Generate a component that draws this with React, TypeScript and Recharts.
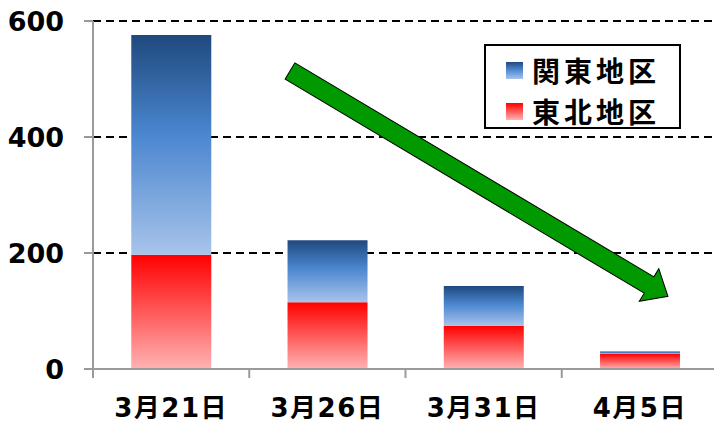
import { BarChart, Bar, XAxis, YAxis, CartesianGrid } from "recharts";

// 日付ごとの人数（東北地区が下段、関東地区が上段）
const dates = ["3月21日", "3月26日", "3月31日", "4月5日"];
const tohoku = [197, 115, 74, 26];
const kanto = [379, 107, 69, 4];
const yTicks = [0, 200, 400, 600];

const data = dates.map((d, i) => ({ date: d, tohoku: tohoku[i], kanto: kanto[i] }));

const FONT = "'DejaVu Sans', 'Noto Sans CJK JP', sans-serif";
const CJK_FONT = "'Noto Sans CJK JP', 'DejaVu Sans', sans-serif";
const AXIS_GRAY = "#9a9a9a";

const BLUE_GRAD = "linear-gradient(#1f497d, #4a86cf 45%, #a8c4ea)";
const RED_GRAD = "linear-gradient(#ff0000, #ffb3b3)";

function XTick(props: any) {
  const { x, y, payload } = props;
  const half = payload?.offset ?? 0;
  return (
    <g>
      <line x1={x - half} x2={x - half} y1={y} y2={y + 9} stroke={AXIS_GRAY} strokeWidth={2} />
      <text
        x={x}
        y={y + 48}
        textAnchor="middle"
        fontFamily={FONT}
        fontWeight="bold"
        fontSize={26}
        letterSpacing={1.5}
        fill="#000"
      >
        {payload.value}
      </text>
    </g>
  );
}

function LegendBox() {
  const items = [
    { label: "関東地区", bg: BLUE_GRAD },
    { label: "東北地区", bg: RED_GRAD },
  ];
  return (
    <div
      style={{
        position: "absolute",
        left: 484,
        top: 44,
        width: 193,
        height: 81,
        border: "2px solid #000",
        background: "#fff",
        boxSizing: "content-box",
      }}
    >
      {items.map((it, i) => (
        <div
          key={it.label}
          style={{
            position: "absolute",
            left: 20,
            top: 6 + i * 41,
            height: 36,
            display: "flex",
            alignItems: "center",
          }}
        >
          <span style={{ width: 17, height: 17, background: it.bg, display: "inline-block" }} />
          <span
            style={{
              marginLeft: 9,
              fontFamily: CJK_FONT,
              fontWeight: "bold",
              fontSize: 28,
              letterSpacing: 4,
              lineHeight: "36px",
              color: "#000",
            }}
          >
            {it.label}
          </span>
        </div>
      ))}
    </div>
  );
}

function Arrow() {
  const L = 440;
  const hl = 22;
  const sw = 9.5;
  const hw = 19;
  const pts = [
    [0, -sw],
    [L - hl, -sw],
    [L - hl, -hw],
    [L, 0],
    [L - hl, hw],
    [L - hl, sw],
    [0, sw],
  ]
    .map((p) => p.join(","))
    .join(" ");
  return (
    <svg
      width={714}
      height={426}
      style={{ position: "absolute", left: 0, top: 0, pointerEvents: "none" }}
    >
      <polygon
        points={pts}
        transform="translate(290,71) rotate(30.8)"
        fill="#009900"
        stroke="#000"
        strokeWidth={1}
      />
    </svg>
  );
}

export default function App() {
  return (
    <div
      style={{
        position: "absolute",
        left: 0,
        top: 0,
        width: 714,
        height: 426,
        overflow: "hidden",
        background: "#fff",
      }}
    >
      <BarChart
        width={718}
        height={426}
        data={data}
        margin={{ top: 21, right: 0, bottom: 0, left: 0 }}
        barCategoryGap="24.5%"
      >
        <defs>
          <linearGradient id="gBlue" x1="0" y1="0" x2="0" y2="1">
            <stop offset="0%" stopColor="#1f497d" />
            <stop offset="45%" stopColor="#4a86cf" />
            <stop offset="100%" stopColor="#a8c4ea" />
          </linearGradient>
          <linearGradient id="gRed" x1="0" y1="0" x2="0" y2="1">
            <stop offset="0%" stopColor="#ff0000" />
            <stop offset="100%" stopColor="#ffb3b3" />
          </linearGradient>
        </defs>
        <CartesianGrid
          vertical={false}
          stroke="#000"
          strokeWidth={2}
          strokeDasharray="8 5"
        />
        <XAxis
          dataKey="date"
          height={57}
          axisLine={{ stroke: AXIS_GRAY, strokeWidth: 2 }}
          tickLine={false}
          tickSize={0}
          tickMargin={0}
          tick={<XTick />}
          interval={0}
        />
        <YAxis
          width={93}
          domain={[0, 600]}
          ticks={yTicks}
          axisLine={{ stroke: AXIS_GRAY, strokeWidth: 2 }}
          tickLine={{ stroke: AXIS_GRAY, strokeWidth: 2 }}
          tickSize={9}
          tickMargin={20}
          tick={{ fontSize: 27, fontWeight: "bold", fill: "#000", fontFamily: FONT }}
        />
        <Bar dataKey="tohoku" stackId="a" fill="url(#gRed)" isAnimationActive={false} />
        <Bar dataKey="kanto" stackId="a" fill="url(#gBlue)" isAnimationActive={false} />
      </BarChart>
      <Arrow />
      <LegendBox />
    </div>
  );
}
